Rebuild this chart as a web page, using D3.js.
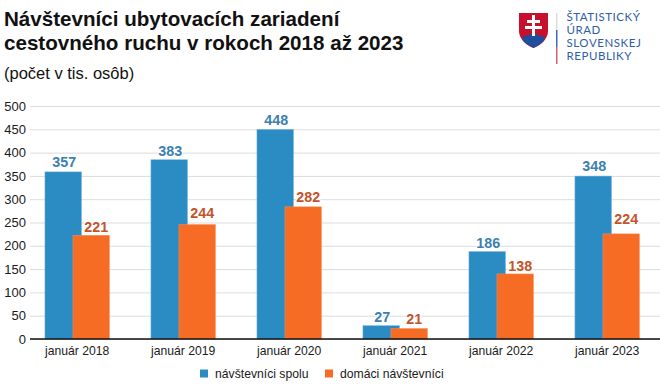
<!DOCTYPE html>
<html>
<head>
<meta charset="utf-8">
<script src="https://cdn.jsdelivr.net/npm/d3@7"></script>
<style>
  html, body { margin: 0; padding: 0; background: #fff; }
  svg { display: block; font-family: "Liberation Sans", Arial, sans-serif; }
</style>
</head>
<body>
<div class="canvas"></div>
<script>
const categories = ["január 2018","január 2019","január 2020","január 2021","január 2022","január 2023"];
const spolu = [357,383,448,27,186,348];
const domaci = [221,244,282,21,138,224];
const seriesNames = ["návštevníci spolu","domáci návštevníci"];
const yTicks = [0,50,100,150,200,250,300,350,400,450,500];

const svgWidth = 660;
const svgHeight = 389;
const barWidth = 37;

const svg = d3.select('.canvas')
  .append('svg')
    .attr('width', svgWidth)
    .attr('height', svgHeight);

// title
const title = svg.append('g').attr('fill', '#111');
title.append('text').attr('x', 4).attr('y', 25.5).attr('font-size', 20.6).attr('font-weight', 'bold')
  .text('Návštevníci ubytovacích zariadení');
title.append('text').attr('x', 4).attr('y', 50).attr('font-size', 20.6).attr('font-weight', 'bold')
  .text('cestovného ruchu v rokoch 2018 až 2023');
title.append('text').attr('x', 4).attr('y', 79).attr('font-size', 16.5)
  .text('(počet v tis. osôb)');

// logo
const logo = svg.append('g');
logo.append('path')
  .attr('d', 'M519 13H548V31C548 39 541 45 533.500 48C526 45 519 39 519 31Z')
  .attr('fill', '#c8102e');
logo.append('path')
  .attr('d', 'M522 39C524 35 526 35 528 36C530 33 537 33 539 36C541 35 543 35 545 39C542 44 537 46 533.500 48C530 46 525 44 522 39Z')
  .attr('fill', '#1f4e9c');
logo.append('path')
  .attr('d', 'M532 15H535V20H540V23H535V26H542V29H535V36H532V29H525V26H532V23H527V20H532Z')
  .attr('fill', '#fff');
logo.append('rect').attr('x', 556).attr('y', 13).attr('width', 1.500).attr('height', 17).attr('fill', '#ddd');
logo.append('rect').attr('x', 556).attr('y', 30).attr('width', 1.500).attr('height', 17).attr('fill', '#3f68b5');
logo.append('rect').attr('x', 556).attr('y', 47).attr('width', 1.500).attr('height', 17).attr('fill', '#d9606e');
const logoLines = ['ŠTATISTICKÝ','ÚRAD','SLOVENSKEJ','REPUBLIKY'];
logo.selectAll('text').data(logoLines).join('text')
  .attr('x', 566.5)
  .attr('y', (d,i) => 21 + i*13)
  .attr('font-family', 'Lato, sans-serif')
  .attr('font-size', 11.5)
  .attr('letter-spacing', 0.55)
  .attr('fill', '#2f5ca6')
  .text(d => d);

// scales
const x = d3.scaleBand().domain(categories).range([24.2,660.2]);
const offset = d3.scalePoint().domain(seriesNames).range([-14,14]);
const y = d3.scaleLinear().domain([0,500]).range([339,106]);
const color = d3.scaleOrdinal().domain(seriesNames).range(['#2b8cc4','#f66c25']);
const edgeColor = d3.scaleOrdinal().domain(seriesNames).range(['#6fb2dc','#f98f58']);
const labelColor = d3.scaleOrdinal().domain(seriesNames).range(['#3a80b0','#c4532a']);

// labels were nudged by hand in the original, so the gap above each bar differs
const labelShift = [1,5];
const labelLift = [[4.6,4,4.5,3,3,4.6],[3,6.7,5,4,3,9.3]];

// axes
const yAxis = svg.append('g')
  .attr('transform', 'translate(30,0)')
  .call(d3.axisLeft(y).tickValues(yTicks).tickSize(-630).tickPadding(4));
yAxis.select('.domain').remove();
yAxis.selectAll('.tick line').attr('stroke', '#dcdcdc');
yAxis.selectAll('.tick text').attr('font-size', 13).attr('fill', '#1a1a1a')
  .attr('font-family', '"Liberation Sans", Arial, sans-serif');

const series = [spolu, domaci];
series.forEach((values, s) => {
  const name = seriesNames[s];
  const cx = i => x(categories[i]) + x.bandwidth()/2 + offset(name);

  svg.append('g').selectAll('rect').data(values).join('rect')
    .attr('x', (d,i) => cx(i) - barWidth/2 + 0.25)
    .attr('y', d => y(d) - 0.75)
    .attr('width', barWidth - 0.5)
    .attr('height', d => y(0) - y(d) + 0.75)
    .attr('fill', color(name))
    .attr('stroke', edgeColor(name))
    .attr('stroke-width', 0.5);

  svg.append('g').selectAll('text').data(values).join('text')
    .attr('x', (d,i) => cx(i) + labelShift[s])
    .attr('y', (d,i) => y(d) - 1 - labelLift[s][i])
    .attr('text-anchor', 'middle')
    .attr('font-size', 14.3)
    .attr('font-weight', 'bold')
    .attr('fill', labelColor(name))
    .attr('stroke', '#fff')
    .attr('stroke-width', 2)
    .attr('paint-order', 'stroke')
    .text(d => d);
});

const xAxis = svg.append('g')
  .attr('transform', 'translate(0,339)')
  .call(d3.axisBottom(x).tickSize(0).tickPadding(7));
xAxis.select('.domain').attr('stroke', '#111').attr('stroke-width', 1.300).attr('d', 'M30,0H660');
xAxis.selectAll('.tick text').attr('font-size', 12.2).attr('fill', '#1a1a1a')
  .attr('font-family', '"Liberation Sans", Arial, sans-serif');

// legend
const legendX = [200,325];
const legend = svg.append('g').selectAll('g').data(seriesNames).join('g')
  .attr('transform', (d,i) => `translate(${legendX[i]},373.500)`);
legend.append('rect').attr('y', -4).attr('width', 8).attr('height', 8).attr('fill', d => color(d));
legend.append('text').attr('x', 15).attr('y', 4.500).attr('font-size', 12.2).attr('fill', '#1a1a1a').text(d => d);
</script>
</body>
</html>
